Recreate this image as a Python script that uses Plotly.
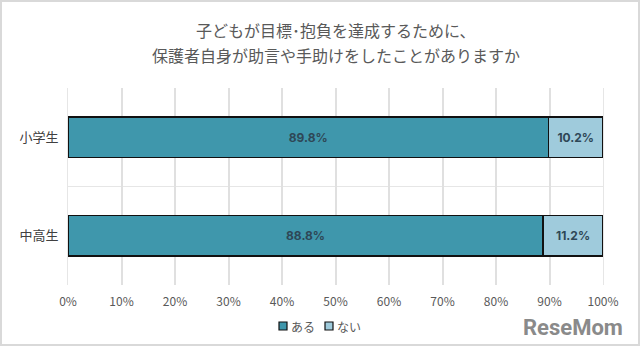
import plotly.graph_objects as go

categories = ["小学生", "中高生"]
series_names = ["ある", "ない"]
aru = [89.8, 88.8]
nai = [10.2, 11.2]
tick_vals = [0, 10, 20, 30, 40, 50, 60, 70, 80, 90, 100]
tick_text = [f"{v}%" for v in tick_vals]
title_lines = ["子どもが目標･抱負を達成するために、",
               "保護者自身が助言や手助けをしたことがありますか"]

colors = ["#3f97ac", "#9fcbdc"]
font = "Noto Sans CJK JP"
PW, PH = 535, 197  # plot area size in px

fig = go.Figure()
for name, vals, col in zip(series_names, [aru, nai], colors):
    fig.add_trace(go.Bar(
        y=categories, x=vals, name=name, orientation="h",
        marker=dict(color=col, line=dict(color="#111111", width=1.5)),
        width=0.41,
        text=[f"{v:.1f}%" for v in vals], textposition="inside",
        insidetextanchor="middle",
        textfont=dict(color="#2e4756", size=12, family="Inter"),
        texttemplate="<b>%{text}</b>",
        showlegend=False,
    ))

fig.add_shape(type="line", xref="x", yref="y", x0=0, x1=100, y0=0.5, y1=0.5,
              line=dict(color="#e6e6e6", width=1), layer="below")

fig.add_shape(type="rect", xref="paper", yref="paper", x0=-67/PW, x1=1+36/PW,
              y0=-60/PH, y1=1+87/PH, line=dict(color="#d9d9d9", width=2))

annotations = []
for line, off in zip(title_lines, [58, 33]):
    annotations.append(dict(text=line, x=0.5, xref="paper", y=1 + off / PH,
                            yref="paper", xanchor="center", yanchor="middle",
                            showarrow=False,
                            font=dict(size=16, color="#595959", family=font)))
annotations.append(dict(text="<b>ReseMom</b>", x=1+22/PW, xref="paper", y=-0.14,
                        yref="paper", xanchor="right", yanchor="top", showarrow=False,
                        font=dict(size=22, color="#8a8a8a", family="Roboto")))

# manual legend
leg_x = [279, 325]
leg_y = -41 / PH
for name, col, lx in zip(series_names, colors, leg_x):
    x0 = (lx - 68) / PW
    fig.add_shape(type="rect", xref="paper", yref="paper",
                  x0=x0, x1=x0 + 8 / PW, y0=leg_y - 4 / PH, y1=leg_y + 4 / PH,
                  line=dict(color="#111111", width=1.2), fillcolor=col)
    annotations.append(dict(text=name, x=x0 + 10 / PW, xref="paper", y=leg_y,
                            yref="paper", xanchor="left", yanchor="middle",
                            showarrow=False,
                            font=dict(size=12, color="#595959", family=font)))

fig.update_layout(
    barmode="stack",
    width=640, height=347,
    margin=dict(l=68, r=37, t=88, b=62, autoexpand=False),
    paper_bgcolor="white", plot_bgcolor="white",
    xaxis=dict(range=[0, 100], tickvals=tick_vals, ticktext=tick_text,
               showgrid=True, gridcolor="#e0e0e0", gridwidth=1.5,
               zeroline=False, showline=False,
               tickfont=dict(size=12, color="#595959", family=font),
               ticks="", ticklabelstandoff=8),
    yaxis=dict(autorange="reversed", showgrid=False, zeroline=False,
               showline=True, linecolor="#e6e6e6", mirror=True,
               tickfont=dict(size=13, color="#404040", family=font),
               ticks="", ticklabelstandoff=6),
    showlegend=False,
    annotations=annotations,
)

fig.write_html("out.html")
